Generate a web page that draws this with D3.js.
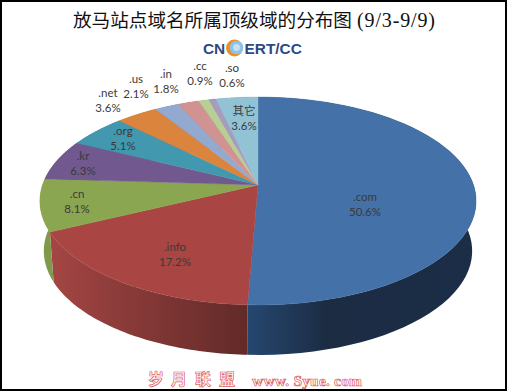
<!DOCTYPE html>
<html><head><meta charset="utf-8">
<script src="https://cdn.jsdelivr.net/npm/d3@7"></script>
<style>html,body{margin:0;padding:0;background:#fff}svg{display:block}</style></head>
<body><svg id="c" width="507" height="391"></svg>
<script>
const categories=[".com",".info",".cn",".kr",".org",".net",".us",".in",".cc",".so","其它"];
const shares=[50.6,17.2,8.1,6.3,5.1,3.6,2.1,1.8,0.9,0.6,3.6];
const topColors=["#4471A7","#A94543","#8BA650","#71588F","#4198AF","#DB843D","#93A9CF","#D19392","#B9CD96","#A99BBD","#92C3D5"];
const wallLight=["#25476F","#A24543","#7F9A4A","#5f4a78","#37809a","#b86f33","#7c8fb0","#b07c7b","#9cad7e","#8e82a0","#7ba4b3"];
const wallDark=["#1B2C43","#642A29","#7F9A4A","#42345a","#2a5d70","#865126","#5a6880","#805a59","#71805c","#685f75","#597885"];
const labelX=[365,175,77,83,123,108,136,166,200,232,244];
const labelY=[197,247,194,156,131,93,79,74,66,68,111];

const W=507,H=391;
const svg=d3.select("#c");
svg.append("rect").attr("x",1).attr("y",1).attr("width",W-2).attr("height",H-2).attr("fill","#fff").attr("stroke","#000").attr("stroke-width",2);

// perspective projection of the unit disc onto the page
const k=0.154;
const px=d3.scaleLinear().domain([-1,1]).range([258-215.5,258+215.5]);
const py=d3.scaleLinear().domain([-1,1]).range([185-101.5,185+101.5]);
const wallShrink=0.982, depth=50;
function proj(theta,r=1){
  const u=r*Math.sin(theta), v=-r*Math.cos(theta), d=1-k*v;
  return [px(u/d),py(v/d)];
}
function low(theta){
  const [x,y]=proj(theta);
  return [258+(x-258)*wallShrink,y+depth];
}
const arcs=d3.pie().sort(null).value(d=>d)(shares);
const samples=a=>d3.range(0,61).map(i=>a.startAngle+(a.endAngle-a.startAngle)*i/60);
const line=d3.line();

const defs=svg.append("defs");
function addGrad(id,stops,x1,x2){
  const g=defs.append("linearGradient").attr("id",id).attr("gradientUnits","userSpaceOnUse")
    .attr("x1",x1).attr("x2",x2).attr("y1",0).attr("y2",0);
  stops.forEach(s=>g.append("stop").attr("offset",s[0]).attr("stop-color",s[1]));
}
arcs.forEach((a,i)=>{
  const pts=samples(a);
  const xs=pts.map(t=>proj(t)[0]);
  const x0=d3.min(xs),x1=d3.max(xs);
  if(i===0) addGrad("w0",[[0,wallLight[0]],[0.35,wallDark[0]],[1,"#1B2E47"]],x0,x1);
  else if(i===1) addGrad("w1",[[0,"#A54644"],[0.3,"#8F3D3B"],[1,"#622A28"]],x0,x1);
  else addGrad("w"+i,[[0,wallLight[i]],[1,wallDark[i]]],x0,x1);
  const poly=pts.map(t=>proj(t)).concat(pts.slice().reverse().map(low));
  svg.append("path").attr("d",line(poly)+"Z").attr("fill",`url(#w${i})`);
});
// top face
arcs.forEach((a,i)=>{
  const poly=[proj(0,0)].concat(samples(a).map(t=>proj(t)));
  svg.append("path").attr("d",line(poly)+"Z").attr("fill",topColors[i]).attr("stroke",topColors[i]).attr("stroke-width",0.4);
});

// title
svg.append("text").attr("x",73).attr("y",27).attr("fill","#111")
  .attr("font-family","'Noto Sans CJK SC'").attr("font-size",18.6).text("放马站点域名所属顶级域的分布图");
svg.append("text").attr("x",357).attr("y",26.5).attr("fill","#111")
  .attr("font-family","'Liberation Serif'").attr("font-size",20).attr("textLength",78).text("(9/3-9/9)");

// logo
const logoFont="'Liberation Sans'";
svg.append("text").attr("x",203).attr("y",53.5).attr("font-family",logoFont).attr("font-weight","bold").attr("font-size",15.4).attr("fill","#2B4A86").text("CN");
svg.append("circle").attr("cx",234.5).attr("cy",48).attr("r",8.5).attr("fill","#E8922E");
svg.append("circle").attr("cx",236.5).attr("cy",47.5).attr("r",6.8).attr("fill","#8CC3E8");
svg.append("circle").attr("cx",236.5).attr("cy",47.5).attr("r",3.4).attr("fill","#C5E2F4");
svg.append("text").attr("x",244.5).attr("y",53.5).attr("font-family",logoFont).attr("font-weight","bold").attr("font-size",15.4).attr("fill","#2B4A86").text("ERT/CC");

// labels
categories.forEach((c,i)=>{
  const g=svg.append("text").attr("text-anchor","middle").attr("font-family","Lato,'Noto Sans CJK SC'").attr("font-size",11.5).attr("fill","#3a3a3a");
  g.append("tspan").attr("x",labelX[i]).attr("y",labelY[i]+4).text(c);
  g.append("tspan").attr("x",labelX[i]).attr("y",labelY[i]+19).text(shares[i].toFixed(1)+"%");
});

// watermark
const wmFill="#fff",wmStroke="#E0605F";
[["岁",148],["月",171],["联",195],["盟",219]].forEach(d=>{
  svg.append("text").attr("x",d[1]).attr("y",385).attr("font-family","'Noto Sans CJK SC'").attr("font-weight","bold").attr("font-size",16)
    .attr("fill",wmFill).attr("stroke",wmStroke).attr("stroke-width",0.7).text(d[0]);
});
svg.append("text").attr("x",252).attr("y",385.5).attr("font-family","'Liberation Serif'").attr("font-weight","bold").attr("font-size",15.5)
  .attr("textLength",110).attr("fill",wmFill).attr("stroke",wmStroke).attr("stroke-width",0.7).text("www. Syue. com");
</script></body></html>
